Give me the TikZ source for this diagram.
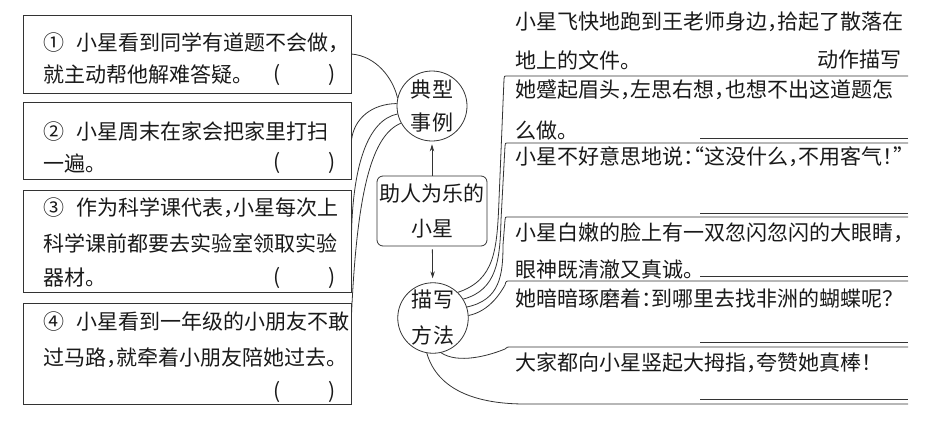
\documentclass[tikz,border=0pt]{standalone}
\usepackage{fontspec}
\setmainfont{Noto Sans CJK SC}[RawFeature=+halt]
\usetikzlibrary{arrows.meta}
\tikzset{
	ink/.style={draw=black!80, line width=0.8pt},
	txt/.style={inner sep=0pt, anchor=west, text=black!90, font=\fontsize{21}{24}\selectfont},
	paren/.style={txt, anchor=east},
	casebox/.style={ink, rectangle, inner sep=0pt, minimum width=328pt},
	hub/.style={ink, circle, inner sep=0pt, minimum size=70pt, align=center, text=black!90},
	pointer/.style={ink, -{Stealth[length=7pt,width=4.5pt]}}
}

\begin{document}
\begin{tikzpicture}[x=1pt, y=-1pt]
		%%%%% START %%%%%
		\useasboundingbox (0,0) rectangle (932,421);
		
		% left boxes
		\node[casebox, minimum height=78pt] (case1) at (187,54) {};
		\node[casebox, minimum height=77pt] (case2) at (187,140.5) {};
		\node[casebox, minimum height=102pt] (case3) at (187,241) {};
		\node[casebox, minimum height=101pt] (case4) at (187,353.5) {};
		
		\node[txt] (case1a) at (43,43) {①\hspace{12pt}小星看到同学有道题不会做，};
		\node[txt] (case1b) at (43,75) {就主动帮他解难答疑。};
		\node[paren] (case1p) at (336,75) {(\hspace{48pt})};
		
		\node[txt] (case2a) at (43,132) {②\hspace{12pt}小星周末在家会把家里打扫};
		\node[txt] (case2b) at (43,163) {一遍。};
		\node[paren] (case2p) at (336,163) {(\hspace{48pt})};
		
		\node[txt] (case3a) at (43,208) {③\hspace{12pt}作为科学课代表，小星每次上};
		\node[txt] (case3b) at (43,243) {科学课前都要去实验室领取实验};
		\node[txt] (case3c) at (43,278) {器材。};
		\node[paren] (case3p) at (336,278) {(\hspace{48pt})};
		
		\node[txt] (case4a) at (43,322) {④\hspace{12pt}小星看到一年级的小朋友不敢};
		\node[txt] (case4b) at (43,358) {过马路，就牵着小朋友陪她过去。};
		\node[paren] (case4p) at (336,392) {(\hspace{48pt})};
		
		% middle
		\node[hub, font=\fontsize{21}{33}\selectfont] (typ) at (432,106) {典\hspace{2pt}型\\事\hspace{2pt}例};
		\node[ink, rounded corners=6pt, minimum width=110pt, minimum height=70pt, inner sep=0pt, align=center, text=black!90, font=\fontsize{21}{35}\selectfont] (topic) at (432,211) {助人为乐的\\小星};
		\node[hub, font=\fontsize{21}{36}\selectfont] (desc) at (433,318) {描\hspace{2pt}写\\方\hspace{2pt}法};
		
		\draw[pointer, shorten >=3pt] (topic) -- (typ);
		\draw[pointer, shorten <=3pt, shorten >=4pt] (topic) -- (desc);
		
		\draw[ink] (case1.east) .. controls (376,56) and (393,78) .. (typ.167);
		\draw[ink] (case2.east) .. controls (354,118) and (372,104) .. (typ.176);
		\draw[ink] (typ.193) .. controls (368,120) and (352,165) .. (case3.east);
		\draw[ink] (typ.209) .. controls (372,135) and (357,190) .. ([yshift=-14pt]case4.north east);
		
		% right texts
		\node[txt] (d1a) at (515,22) {小星飞快地跑到王老师身边，拾起了散落在};
		\node[txt] (d1b) at (515,60) {地上的文件。};
		\node[paren] (d1c) at (902,60) {动作描写};
		\node[txt] (d2a) at (515,90) {她蹙起眉头，左思右想，也想不出这道题怎};
		\node[txt] (d2b) at (515,131) {么做。};
		\node[txt] (d3a) at (515,157) {小星不好意思地说：“这没什么，不用客气！”};
		\node[txt] (d4a) at (515,233) {小星白嫩的脸上有一双忽闪忽闪的大眼睛，};
		\node[txt] (d4b) at (515,270) {眼神既清澈又真诚。};
		\node[txt] (d5a) at (515,298) {她暗暗琢磨着：到哪里去找非洲的蝴蝶呢？};
		\node[txt] (d6a) at (515,363) {大家都向小星竖起大拇指，夸赞她真棒！};
		
		% answer blanks
		\foreach \y in {138,213,276,342,399}
			\draw[ink] (700,\y) -- (908,\y);
		
		% description rules
		\draw[ink] (desc.46) .. controls (495,280) and (497,250) .. (499,200) -- (504,79) .. controls (504,76) .. (508,76) -- (908,76);
		\draw[ink] (desc.32) .. controls (497,290) and (500,260) .. (501,220) -- (505,146) .. controls (505,143) .. (509,143) -- (908,143);
		\draw[ink] (desc.18) .. controls (500,300) and (503,275) .. (503,245) -- (505,220) .. controls (505,217) .. (509,217) -- (908,217);
		\draw[ink] (desc.4) .. controls (490,311) and (501,292) .. (505,285) .. controls (506,281) .. (510,281) -- (908,281);
		\draw[ink] (desc.-77) .. controls (458,364) and (488,356) .. (505,349) .. controls (507,347) .. (511,347) -- (908,347);
		\draw[ink] (desc.-100) .. controls (438,392) and (480,404) .. (525,404) -- (908,404);
		
		%%%%% END %%%%%
\end{tikzpicture}
\end{document}
